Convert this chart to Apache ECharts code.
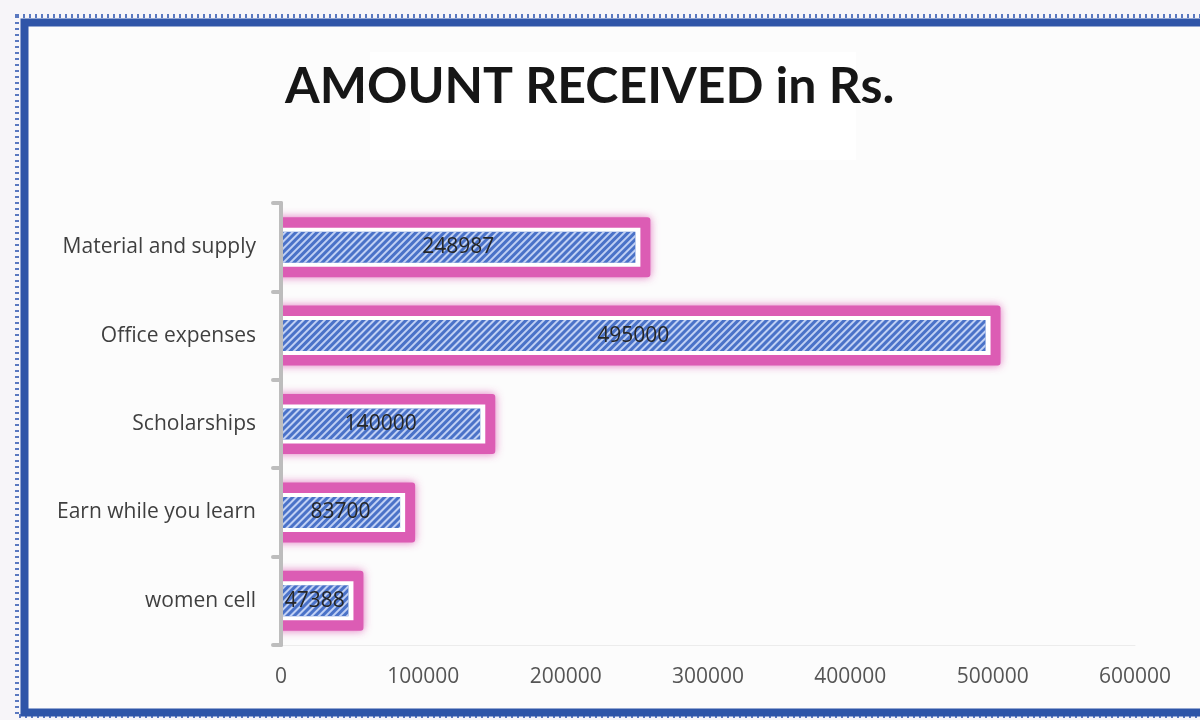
<!DOCTYPE html>
<html>
<head>
<meta charset="utf-8">
<title>Amount received</title>
<script src="https://cdn.jsdelivr.net/npm/echarts@6/dist/echarts.min.js"></script>
<style>
	html, body { margin: 0; padding: 0; background: #f7f5f9; }
	#chart { width: 1200px; height: 720px; }
</style>
</head>
<body>
<div id="chart"></div>
<script>
var categories = ['Material and supply', 'Office expenses', 'Scholarships', 'Earn while you learn', 'women cell'];
var amounts = [248987, 495000, 140000, 83700, 47388];
var xTicks = [0, 100000, 200000, 300000, 400000, 500000, 600000];

var pink = '#dc5cb4';
var blue = '#4a72c8';
var chart1 = {};

chartInit();

function chartInit() {
	var dom = document.getElementById('chart');
	chart1 = echarts.init(dom);

	// frame data for the pink/white outline behind each bar
	var frameData = amounts.map(function (v, i) { return [v, categories[i]]; });

	var option = {
		backgroundColor: '#f7f5f9',
		animation: false,
		title: {
			text: 'AMOUNT RECEIVED in Rs.',
			left: 285,
			top: 62,
			padding: 0,
			textStyle: {
				fontFamily: 'Lato',
				fontWeight: 'bold',
				fontSize: 50,
				color: '#161616'
			}
		},
		graphic: [
			// card background
			{ type: 'rect', z: -10, shape: { x: 24, y: 22, width: 1200, height: 690 }, style: { fill: '#fcfcfc' } },
			// title box
			{ type: 'rect', z: -9, shape: { x: 370, y: 52, width: 486, height: 108 }, style: { fill: '#ffffff' } },
			// dotted edge of the frame
			{ type: 'rect', z: -8, shape: { x: 17, y: 16, width: 1200, height: 700 },
				style: { fill: null, stroke: '#5a78c0', lineWidth: 4, lineDash: [2, 4] } },
			// blue frame
			{ type: 'rect', z: -7, shape: { x: 24.5, y: 22.5, width: 1200, height: 690 },
				style: { fill: null, stroke: '#2f55a8', lineWidth: 8 } }
		],
		grid: {
			left: 281,
			right: 65,
			top: 203,
			bottom: 75,
			containLabel: false
		},
		xAxis: {
			type: 'value',
			min: xTicks[0],
			max: xTicks[xTicks.length - 1],
			interval: xTicks[1] - xTicks[0],
			splitLine: { show: false },
			axisLine: { show: true, lineStyle: { color: '#ececec', width: 1 } },
			axisTick: { show: false },
			axisLabel: {
				margin: 22,
				fontFamily: 'Open Sans',
				fontSize: 21,
				color: '#555555',
				formatter: function (v) { return String(v); }
			}
		},
		yAxis: {
			type: 'category',
			data: categories,
			inverse: true,
			offset: 4,
			z: 5,
			axisLine: { show: true, lineStyle: { color: '#bdbdbd', width: 4, cap: 'round' } },
			axisTick: { show: true, length: 8, lineStyle: { color: '#bdbdbd', width: 4, cap: 'round' } },
			axisLabel: {
				margin: 21,
				fontFamily: 'Open Sans',
				fontSize: 21,
				color: '#3f3f3f'
			}
		},
		series: [
			{
				name: 'frame',
				type: 'custom',
				clip: true,
				z: 1,
				encode: { x: 0, y: 1 },
				data: frameData,
				renderItem: function (params, api) {
					var s = api.coord([0, api.value(1)]);
					var e = api.coord([api.value(0), api.value(1)]);
					var w = e[0] - s[0];
					return {
						type: 'group',
						children: [
							{
								type: 'rect',
								shape: { x: s[0] - 15, y: e[1] - 30, width: w + 30, height: 60, r: 3 },
								style: { fill: pink, shadowBlur: 9, shadowColor: 'rgba(221,92,180,0.85)' }
							},
							{
								type: 'rect',
								shape: { x: s[0] - 5, y: e[1] - 19.5, width: w + 10, height: 39 },
								style: { fill: '#ffffff' }
							}
						]
					};
				}
			},
			{
				name: 'Amount',
				type: 'bar',
				z: 2,
				barWidth: 31,
				data: amounts,
				itemStyle: {
					color: blue,
					decal: {
						symbol: 'rect',
						symbolSize: 1,
						dashArrayX: [1, 0],
						dashArrayY: [2, 3],
						rotation: -Math.PI / 4,
						color: 'rgba(205,218,248,0.9)'
					}
				},
				label: {
					show: true,
					position: 'inside',
					fontFamily: 'Open Sans',
					fontSize: 21,
					color: '#262626'
				}
			}
		]
	};
	chart1.setOption(option, true);
}
</script>
</body>
</html>
